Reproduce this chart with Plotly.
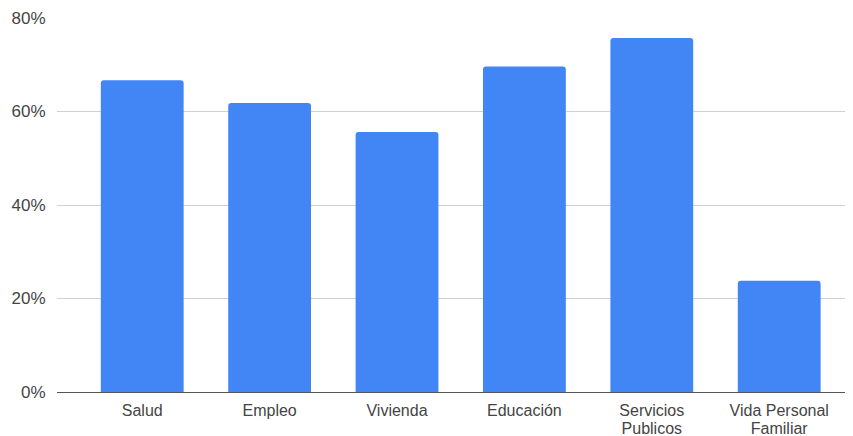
import plotly.graph_objects as go

categories = ["Salud", "Empleo", "Vivienda", "Educación", "Servicios", "Vida Personal"]
categories_line2 = ["", "", "", "", "Publicos", "Familiar"]
values = [0.667, 0.618, 0.556, 0.696, 0.757, 0.238]
y_ticks = [0, 0.2, 0.4, 0.6, 0.8]
y_tick_labels = ["0%", "20%", "40%", "60%", "80%"]

positions = list(range(len(categories)))
x_range = [-0.669, 5.54]

fig = go.Figure()
fig.add_trace(go.Bar(
    x=positions,
    y=values,
    marker=dict(color="#4285F4", cornerradius=3, line=dict(width=0)),
    width=0.65,
    hoverinfo="skip",
))
# invisible helper trace so the second-line tick axis is drawn
fig.add_trace(go.Scatter(
    x=positions,
    y=values,
    xaxis="x2",
    mode="markers",
    marker=dict(opacity=0),
    hoverinfo="skip",
))

tick_font = dict(family="Liberation Sans, Arial, sans-serif", size=16, color="#444444")

fig.update_layout(
    width=845, height=428,
    margin=dict(l=49, r=5, t=10, b=44, autoexpand=False),
    paper_bgcolor="white", plot_bgcolor="white",
    font=dict(family="Liberation Sans, Arial, sans-serif", size=16, color="#444444"),
    showlegend=False,
    xaxis=dict(
        tickmode="array",
        tickvals=positions,
        ticktext=categories,
        range=x_range,
        showgrid=False, zeroline=False, showline=False,
        ticks="outside", ticklen=4, tickcolor="rgba(0,0,0,0)",
        tickfont=tick_font,
        automargin=False,
    ),
    xaxis2=dict(
        overlaying="x",
        side="bottom",
        anchor="y",
        tickmode="array",
        tickvals=positions,
        ticktext=categories_line2,
        range=x_range,
        showgrid=False, zeroline=False, showline=False,
        ticks="outside", ticklen=22, tickcolor="rgba(0,0,0,0)",
        tickfont=tick_font,
        automargin=False,
    ),
    yaxis=dict(
        range=[0, 0.8],
        tickmode="array",
        tickvals=y_ticks,
        ticktext=y_tick_labels,
        showgrid=True, gridcolor="#d0d0d0", gridwidth=1,
        zeroline=True, zerolinecolor="#555555", zerolinewidth=1,
        ticks="outside", ticklen=7, tickcolor="rgba(0,0,0,0)",
        tickfont=dict(family="Liberation Sans, Arial, sans-serif", size=17, color="#444444"),
        automargin=False,
    ),
)

fig.write_html("out.html")
